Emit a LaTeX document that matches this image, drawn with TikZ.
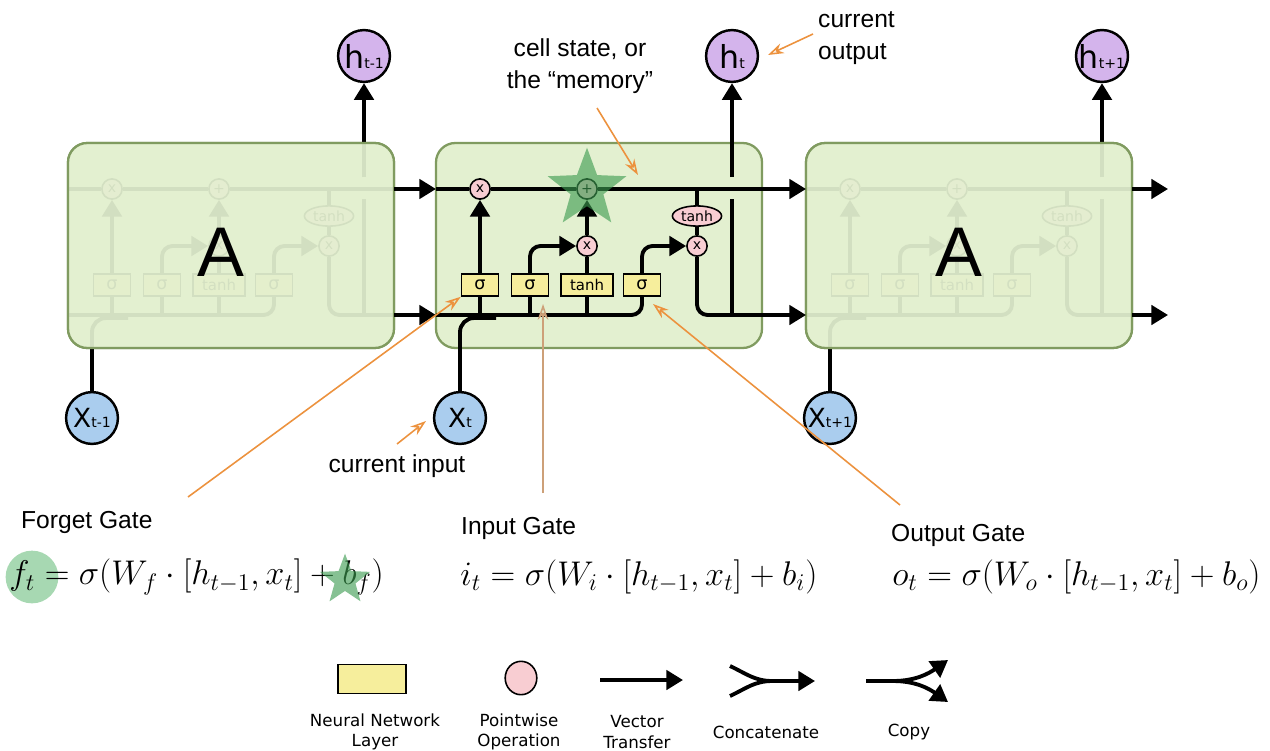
\RequirePackage{fix-cm}
\documentclass[tikz,border=0pt]{standalone}
\usepackage[no-math]{fontspec}
\setmainfont{Liberation Sans}
\newfontfamily\djv{DejaVu Sans}
\usetikzlibrary{arrows.meta, shapes.geometric}

\definecolor{boxfill}{RGB}{227,240,208}
\definecolor{boxline}{RGB}{128,155,96}
\definecolor{nnfill}{RGB}{246,238,156}
\definecolor{pwfill}{RGB}{248,205,210}
\definecolor{hfill}{RGB}{212,180,236}
\definecolor{xfill}{RGB}{170,205,238}
\definecolor{notecol}{RGB}{236,146,62}
\definecolor{notetan}{RGB}{205,160,120}
\definecolor{stargreen}{RGB}{60,155,80}
\definecolor{markgreen}{RGB}{130,200,145}

% big letter with a small index, as in the round nodes
\newcommand{\circlbl}[3]{{\djv\fontsize{#1}{#1}\selectfont #2}{\djv\fontsize{8}{8}\selectfont #3}}

\begin{document}
\begin{tikzpicture}[x=0.02cm, y=-0.02cm,
  wire/.style={line width=2.2pt},
  vec/.style={wire, -{Triangle[length=9.5pt,width=11pt]}},
  cellbox/.style={draw=boxline, line width=1.3pt, fill=boxfill, rounded corners=11pt},
  nnlayer/.style={draw, line width=0.9pt, fill=nnfill, inner sep=0pt, minimum width=21pt, minimum height=12.5pt, font=\djv\fontsize{10}{10}\selectfont},
  pwop/.style={circle, draw, line width=0.9pt, fill=pwfill, inner sep=0pt, minimum size=11.5pt, font=\djv\fontsize{8}{8}\selectfont},
  hnode/.style={circle, draw, line width=1.4pt, fill=hfill, inner sep=0pt, minimum size=29.5pt},
  xnode/.style={hnode, fill=xfill},
  pointer/.style={draw=notecol, line width=0.9pt, -{Stealth[open, length=9pt, width=6pt]}},
  notetext/.style={font=\fontsize{14}{18}\selectfont},
  eqtext/.style={font=\fontsize{19.5}{24}\selectfont, inner sep=0pt},
  legendtext/.style={font=\djv\fontsize{9.5}{11.5}\selectfont, align=center},
  bigA/.style={font=\fontsize{40}{40}\selectfont},
  memstar/.style={star, star points=5, star point ratio=2.4, fill=stargreen, fill opacity=0.62, inner sep=0pt}
]
\useasboundingbox (0,0) rectangle (1270,750);

% cell boxes
\foreach \bx in {68,436,806}
  \draw[cellbox] (\bx,143) rectangle ++(326,205);

% inside of each cell
\foreach \c/\bx/\sb in {L/68/t-1, M/436/t, R/806/t+1}{
  \begin{scope}[shift={(\bx,0)}]
    \coordinate (\c-cin) at (0,189);
    \coordinate (\c-cout) at (326,189);
    \coordinate (\c-hin) at (0,315);
    \coordinate (\c-hout) at (326,315);
    \coordinate (\c-tap) at (261,189);
    \coordinate (\c-htop) at (296,177);
    \coordinate (\c-hgap) at (296,199);
    \coordinate (\c-hbot) at (296,315);
    \coordinate (\c-xm) at (60,318);
    \node[pwop] (\c-fx) at (44,189) {x};
    \node[pwop] (\c-plus) at (151,189) {+};
    \node[pwop] (\c-ix) at (151,246) {x};
    \node[pwop] (\c-ox) at (261,246) {x};
    \node[pwop, ellipse, minimum width=28pt, minimum height=11.5pt] (\c-tanh) at (261,216) {tanh};
    \node[nnlayer] (\c-s1) at (44,285) {σ};
    \node[nnlayer] (\c-s2) at (94,285) {σ};
    \node[nnlayer, minimum width=29.5pt, font=\djv\fontsize{8.5}{8.5}\selectfont] (\c-th) at (151,285) {tanh};
    \node[nnlayer] (\c-s3) at (206,285) {σ};
    \node[hnode] (\c-h) at (296,56) {\circlbl{18}{h}{\sb}};
    \node[xnode] (\c-x) at (24,418) {\circlbl{15}{X}{\sb}};
    % cell state and hidden state
    \draw[wire] (\c-cin) -- (\c-fx) -- (\c-plus) -- (\c-cout);
    \draw[wire] (\c-tap) -- (\c-tanh) -- (\c-ox);
    \draw[wire, rounded corners=6pt] (\c-hin) -| (\c-s3);
    \draw[wire] (\c-s1) -- (\c-s1 |- \c-hin);
    \draw[wire] (\c-s2) -- (\c-s2 |- \c-hin);
    \draw[wire] (\c-th) -- (\c-th |- \c-hin);
    \draw[wire, rounded corners=8pt] (\c-x) |- (\c-xm);
    % gates
    \draw[vec] (\c-s1) -- (\c-fx);
    \draw[vec, rounded corners=6pt] (\c-s2) |- (\c-ix);
    \draw[wire] (\c-th) -- (\c-ix);
    \draw[vec] (\c-ix) -- (\c-plus);
    \draw[vec, rounded corners=6pt] (\c-s3) |- (\c-ox);
    \draw[wire, rounded corners=6pt] (\c-ox) |- (\c-hout);
    \draw[wire] (\c-hgap) -- (\c-hbot);
    \draw[vec] (\c-htop) -- (\c-h);
  \end{scope}
}

\node[memstar, minimum size=47pt] (cellstar) at (M-plus) {};

% outer cells are faded
\foreach \c/\bx in {L/68, R/806}{
  \draw[cellbox, fill opacity=0.93] (\bx,143) rectangle ++(326,205);
  \node[bigA] (\c-A) at (\bx+153,252) {A};
}

% flow between cells
\coordinate (cend) at (1168,189);
\coordinate (hend) at (1168,315);
\draw[vec] (L-cout) -- (M-cin);
\draw[vec] (M-cout) -- (R-cin);
\draw[vec] (R-cout) -- (cend);
\draw[vec] (L-hout) -- (M-hin);
\draw[vec] (M-hout) -- (R-hin);
\draw[vec] (R-hout) -- (hend);

% notes
\node[notetext, align=center] (memlbl) at (580,66) {cell state, or\\the “memory”};
\node[notetext, align=left, anchor=west] (outlbl) at (812,38) {current\\output};
\node[notetext] (inlbl) at (397,466) {current input};
\coordinate (memfoot) at (597,108);
\coordinate (memtip) at (638,175);
\coordinate (outfoot) at (813,34);
\coordinate (outtip) at (768,55);
\coordinate (infoot) at (397,444);
\coordinate (intip) at (426,421);
\coordinate (fgfoot) at (188,497);
\coordinate (igfoot) at (543,493);
\coordinate (igtip) at (543,304);
\coordinate (ogfoot) at (900,505);
\coordinate (ogtip) at (653,304);
\draw[pointer] (memfoot) -- (memtip);
\draw[pointer] (outfoot) -- (outtip);
\draw[pointer] (infoot) -- (intip);
\draw[pointer] (fgfoot) -- (M-s1.south west);
\draw[pointer, draw=notetan] (igfoot) -- (igtip);
\draw[pointer] (ogfoot) -- (ogtip);

% gate equations
\node[notetext, anchor=west] (fglbl) at (15,522) {Forget Gate};
\node[notetext, anchor=west] (iglbl) at (455,528) {Input Gate};
\node[notetext, anchor=west] (oglbl) at (885,535) {Output Gate};
\node[circle, fill=markgreen, fill opacity=0.7, minimum size=30pt] (ftmark) at (32,577) {};
\node[eqtext, anchor=west] (fgeq) at (9,577) {$f_t = \sigma(W_f \cdot [h_{t-1}, x_t] + b_f)$};
\node[eqtext, anchor=west] (igeq) at (460,577) {$i_t = \sigma(W_i \cdot [h_{t-1}, x_t] + b_i)$};
\node[eqtext, anchor=west] (ogeq) at (892,577) {$o_t = \sigma(W_o \cdot [h_{t-1}, x_t] + b_o)$};
\node[memstar, minimum size=30pt] (bfstar) at (345,580) {};

% legend
\node[nnlayer, minimum width=38.5pt, minimum height=16.5pt] (lg-nn) at (372,679) {};
\node[pwop, ellipse, minimum width=18pt, minimum height=19pt] (lg-pw) at (521,678) {};
\coordinate (vt-a) at (600,680);
\coordinate (vt-b) at (683,680);
\coordinate (cc-a) at (730,666);
\coordinate (cc-b) at (730,696);
\coordinate (cc-m) at (772,681);
\coordinate (cc-e) at (815,681);
\coordinate (cp-a) at (866,681);
\coordinate (cp-m) at (893,681);
\coordinate (cp-u) at (948,660);
\coordinate (cp-d) at (948,702);
\draw[vec] (vt-a) -- (vt-b);
\draw[wire] (cc-a) to[out=-25,in=180] (cc-m);
\draw[wire] (cc-b) to[out=25,in=180] (cc-m);
\draw[vec] (cc-m) -- (cc-e);
\draw[wire] (cp-a) -- (cp-m);
\draw[vec] (cp-m) to[out=0,in=215] (cp-u);
\draw[vec] (cp-m) to[out=0,in=145] (cp-d);
\node[legendtext] (lg-nn-t) at (375,732) {Neural Network\\Layer};
\node[legendtext] (lg-pw-t) at (519,732) {Pointwise\\Operation};
\node[legendtext] (lg-vt-t) at (637,732) {Vector\\Transfer};
\node[legendtext] (lg-cc-t) at (766,732) {Concatenate};
\node[legendtext] (lg-cp-t) at (909,732) {Copy};
\end{tikzpicture}
\end{document}
